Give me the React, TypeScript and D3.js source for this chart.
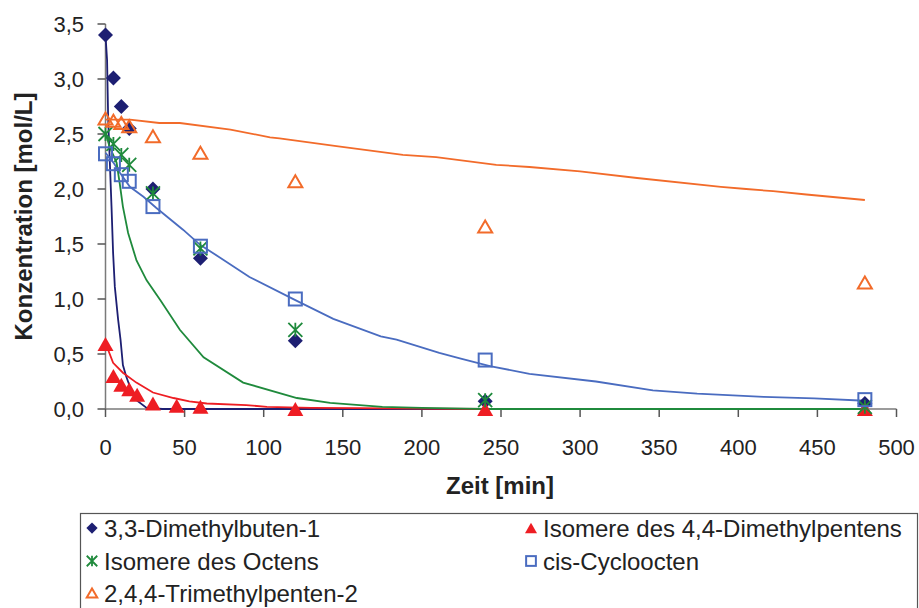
import React from "react";
import * as d3 from "d3";

/* DATA: measured points */
const times = [0, 5, 10, 15, 30, 60, 120, 240, 480];
const dimethylbuten = [3.4, 3.01, 2.75, 2.55, 2.0, 1.37, 0.62, 0.07, 0.05];
const octene = [2.5, 2.41, 2.31, 2.22, 1.96, 1.46, 0.72, 0.08, 0.02];
const cyclooctene = [2.32, 2.23, 2.13, 2.07, 1.84, 1.48, 1.0, 0.445, 0.085];
const trimethylpentene = [2.64, 2.62, 2.6, 2.57, 2.48, 2.33, 2.07, 1.66, 1.15];

const pentenTimes = [0, 5, 10, 15, 20, 30, 45, 60, 120, 240, 480];
const dimethylpenten = [0.59, 0.3, 0.22, 0.18, 0.13, 0.05, 0.03, 0.02, 0.0, 0.0, 0.0];

/* DATA: model curves */
const butenModelT = [0, 1, 1.7, 2.7, 3.8, 4.8, 5.9, 8, 9.5, 11, 13, 15.5, 19.6, 26, 36, 60, 120, 240, 480];
const butenModelV = [3.4, 3.17, 2.63, 2.26, 1.84, 1.42, 1.11, 0.81, 0.63, 0.4, 0.3, 0.2, 0.08, 0.01, 0, 0, 0, 0, 0];

const pentenModelT = [0, 4.8, 11, 19.5, 30, 43, 53, 64, 89, 102, 130, 160, 200, 240, 480];
const pentenModelV = [0.6, 0.42, 0.33, 0.24, 0.15, 0.1, 0.07, 0.05, 0.035, 0.02, 0.01, 0.008, 0.004, 0, 0];

const octeneModelT = [0, 2.7, 7, 9, 11, 14.3, 19.6, 26, 34.6, 47, 62, 87, 121, 142, 175, 200, 228, 240, 480];
const octeneModelV = [2.51, 2.38, 2.24, 2.05, 1.84, 1.6, 1.35, 1.17, 0.99, 0.72, 0.47, 0.24, 0.1, 0.055, 0.02, 0.01, 0.003, 0, 0];

const cycloModelT = [0, 5, 9, 15.4, 24, 32, 49, 60, 72, 91, 120, 144, 174, 184, 211, 224, 243, 268, 310, 346, 374, 416, 448, 480];
const cycloModelV = [2.33, 2.24, 2.15, 2.02, 1.93, 1.83, 1.63, 1.49, 1.38, 1.2, 0.99, 0.82, 0.66, 0.63, 0.51, 0.46, 0.39, 0.32, 0.25, 0.17, 0.14, 0.11, 0.097, 0.075];

const trimethylModelT = [0, 15.5, 34, 47, 79, 104, 110, 146, 188, 209, 247, 268, 300, 336, 389, 405, 422, 443, 480];
const trimethylModelV = [2.63, 2.63, 2.6, 2.6, 2.54, 2.47, 2.46, 2.39, 2.31, 2.29, 2.22, 2.2, 2.16, 2.1, 2.02, 2.0, 1.98, 1.95, 1.9];

const xTicks = [0, 50, 100, 150, 200, 250, 300, 350, 400, 450, 500];
const yTicks = [0, 0.5, 1, 1.5, 2, 2.5, 3, 3.5];

const legendNames = [
  "3,3-Dimethylbuten-1",
  "Isomere des 4,4-Dimethylpentens",
  "Isomere des Octens",
  "cis-Cycloocten",
  "2,4,4-Trimethylpenten-2",
];

const NAVY = "#1d1f72";
const RED = "#ee1d23";
const GREEN = "#1f8a3c";
const BLUE = "#4a6cc0";
const ORANGE = "#f26b2a";
const FONT = "'Liberation Sans', Arial, sans-serif";

function Marker({ kind, x, y, s = 1 }: { kind: string; x: number; y: number; s?: number }) {
  if (kind === "diamond") {
    const r = 7.5 * s;
    return <path d={`M${x},${y - r}L${x + r},${y}L${x},${y + r}L${x - r},${y}Z`} fill={NAVY} />;
  }
  if (kind === "filledTri") {
    const w = 8 * s, h = 14 * s;
    return <path d={`M${x},${y - h / 2}L${x + w},${y + h / 2}L${x - w},${y + h / 2}Z`} fill={RED} />;
  }
  if (kind === "openTri") {
    const w = 7 * s, h = 12 * s;
    return (
      <path
        d={`M${x},${y - h / 2}L${x + w},${y + h / 2}L${x - w},${y + h / 2}Z`}
        fill="none"
        stroke={ORANGE}
        strokeWidth={2}
      />
    );
  }
  if (kind === "square") {
    const r = 6.5 * s;
    return <rect x={x - r} y={y - r} width={2 * r} height={2 * r} fill="none" stroke={BLUE} strokeWidth={2} />;
  }
  // asterisk
  const r = 7 * s;
  return (
    <path
      d={`M${x - r},${y - r}L${x + r},${y + r}M${x + r},${y - r}L${x - r},${y + r}M${x},${y - r}L${x},${y + r}`}
      stroke={GREEN}
      strokeWidth={1.8}
      fill="none"
    />
  );
}

export default function App() {
  const width = 919;
  const height = 608;

  const x = d3.scaleLinear().domain([0, 500]).range([105.5, 896.5]);
  const y = d3.scaleLinear().domain([0, 3.5]).range([409, 24]);

  const line = (ts: number[], vs: number[]) =>
    d3
      .line<number>()
      .x((d, i) => x(ts[i]))
      .y((d) => y(d))(vs) as string;

  const fmt = (v: number) => d3.format(".1f")(v).replace(".", ",");

  const models = [
    { t: butenModelT, v: butenModelV, c: NAVY },
    { t: pentenModelT, v: pentenModelV, c: RED },
    { t: cycloModelT, v: cycloModelV, c: BLUE },
    { t: trimethylModelT, v: trimethylModelV, c: ORANGE },
    { t: octeneModelT, v: octeneModelV, c: GREEN },
  ];

  const series = [
    { t: times, v: dimethylbuten, k: "diamond" },
    { t: pentenTimes, v: dimethylpenten, k: "filledTri" },
    { t: times, v: octene, k: "asterisk" },
    { t: times, v: cyclooctene, k: "square" },
    { t: times, v: trimethylpentene, k: "openTri" },
  ];

  const legendPos = [
    { x: 92, y: 528 },
    { x: 531, y: 528 },
    { x: 92, y: 561 },
    { x: 531, y: 561 },
    { x: 92, y: 593 },
  ];

  return (
    <svg
      width={width}
      height={height}
      style={{ position: "absolute", left: 0, top: 0, background: "#fff" }}
      fontFamily={FONT}
    >
      {/* axes */}
      <line x1={x(0)} x2={x(500)} y1={y(0)} y2={y(0)} stroke="#7a7a7a" strokeWidth={1.5} />
      <line x1={x(0)} x2={x(0)} y1={y(0)} y2={y(3.5)} stroke="#7a7a7a" strokeWidth={1.5} />
      {xTicks.map((t) => (
        <g key={"xt" + t}>
          <line x1={x(t)} x2={x(t)} y1={y(0)} y2={y(0) + 8} stroke="#555" strokeWidth={1.5} />
          <text x={x(t)} y={455} textAnchor="middle" fontSize={22} fill="#222">
            {t}
          </text>
        </g>
      ))}
      {yTicks.map((t) => (
        <g key={"yt" + t}>
          <line x1={x(0) - 8} x2={x(0)} y1={y(t)} y2={y(t)} stroke="#555" strokeWidth={1.5} />
          <text x={84} y={y(t) + 8} textAnchor="end" fontSize={22} fill="#222">
            {fmt(t)}
          </text>
        </g>
      ))}
      <text x={500} y={494} textAnchor="middle" fontSize={24} fontWeight="bold" fill="#222">
        Zeit [min]
      </text>
      <text
        transform={`translate(32,${(y(0) + y(3.5)) / 2}) rotate(-90)`}
        textAnchor="middle"
        fontSize={24}
        fontWeight="bold"
        fill="#222"
      >
        Konzentration [mol/L]
      </text>

      {/* model curves */}
      {models.map((m, i) => (
        <path key={"m" + i} d={line(m.t, m.v)} fill="none" stroke={m.c} strokeWidth={1.8} />
      ))}

      {/* measured points */}
      {series.map((s, i) =>
        s.v.map((v, j) => <Marker key={`p${i}-${j}`} kind={s.k} x={x(s.t[j])} y={y(v)} />)
      )}

      {/* legend */}
      <rect x={80.5} y={513.5} width={837} height={100} fill="none" stroke="#555" strokeWidth={1.2} />
      {series.map((s, i) => (
        <g key={"lg" + i}>
          <Marker kind={s.k} x={legendPos[i].x} y={legendPos[i].y} s={0.75} />
          <text x={legendPos[i].x + 12} y={legendPos[i].y + 8.5} fontSize={24} fill="#222">
            {legendNames[i]}
          </text>
        </g>
      ))}
    </svg>
  );
}
